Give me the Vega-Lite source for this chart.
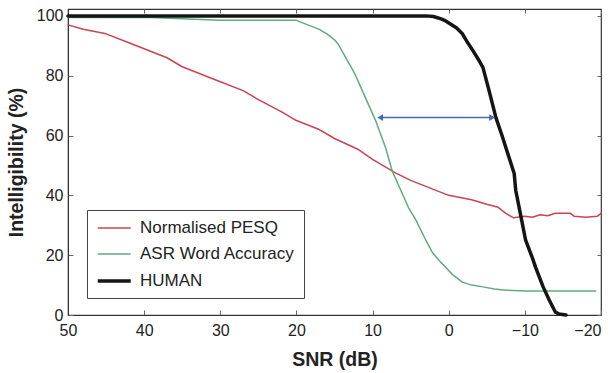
{
  "$schema": "https://vega.github.io/schema/vega-lite/v6.json",
  "width": 533,
  "height": 306,
  "autosize": {"type": "none"},
  "padding": {"left": 68, "top": 9, "right": 9, "bottom": 58},
  "background": "white",
  "config": {
    "font": "Liberation Sans",
    "view": {"stroke": "#333", "strokeWidth": 1.2},
    "axis": {"grid": false, "domainColor": "#333", "tickColor": "#666", "labelColor": "#222", "titleColor": "#222"}
  },
  "datasets": {
    "curves": [
      {"snr": 50, "value": 97, "series": "Normalised PESQ"},
      {"snr": 48, "value": 95.5, "series": "Normalised PESQ"},
      {"snr": 45, "value": 94, "series": "Normalised PESQ"},
      {"snr": 42, "value": 91, "series": "Normalised PESQ"},
      {"snr": 40, "value": 89, "series": "Normalised PESQ"},
      {"snr": 37, "value": 86, "series": "Normalised PESQ"},
      {"snr": 35, "value": 83, "series": "Normalised PESQ"},
      {"snr": 32, "value": 80, "series": "Normalised PESQ"},
      {"snr": 30, "value": 78, "series": "Normalised PESQ"},
      {"snr": 27, "value": 75, "series": "Normalised PESQ"},
      {"snr": 25, "value": 72, "series": "Normalised PESQ"},
      {"snr": 22, "value": 68, "series": "Normalised PESQ"},
      {"snr": 20, "value": 65, "series": "Normalised PESQ"},
      {"snr": 17, "value": 62, "series": "Normalised PESQ"},
      {"snr": 15, "value": 59, "series": "Normalised PESQ"},
      {"snr": 12, "value": 55.5, "series": "Normalised PESQ"},
      {"snr": 10, "value": 52, "series": "Normalised PESQ"},
      {"snr": 7, "value": 47.5, "series": "Normalised PESQ"},
      {"snr": 5, "value": 45, "series": "Normalised PESQ"},
      {"snr": 2, "value": 42, "series": "Normalised PESQ"},
      {"snr": 0, "value": 40, "series": "Normalised PESQ"},
      {"snr": -3, "value": 38.5, "series": "Normalised PESQ"},
      {"snr": -5, "value": 37, "series": "Normalised PESQ"},
      {"snr": -6.5, "value": 36, "series": "Normalised PESQ"},
      {"snr": -7.5, "value": 34, "series": "Normalised PESQ"},
      {"snr": -8.5, "value": 32.5, "series": "Normalised PESQ"},
      {"snr": -10, "value": 33, "series": "Normalised PESQ"},
      {"snr": -11, "value": 32.7, "series": "Normalised PESQ"},
      {"snr": -12, "value": 33.5, "series": "Normalised PESQ"},
      {"snr": -13, "value": 33.2, "series": "Normalised PESQ"},
      {"snr": -14, "value": 34, "series": "Normalised PESQ"},
      {"snr": -16, "value": 34, "series": "Normalised PESQ"},
      {"snr": -16.5, "value": 33, "series": "Normalised PESQ"},
      {"snr": -18, "value": 32.7, "series": "Normalised PESQ"},
      {"snr": -19.5, "value": 33, "series": "Normalised PESQ"},
      {"snr": -20, "value": 34, "series": "Normalised PESQ"},
      {"snr": 50, "value": 99.5, "series": "ASR Word Accuracy"},
      {"snr": 40, "value": 99.5, "series": "ASR Word Accuracy"},
      {"snr": 35, "value": 99, "series": "ASR Word Accuracy"},
      {"snr": 30, "value": 98.5, "series": "ASR Word Accuracy"},
      {"snr": 25, "value": 98.5, "series": "ASR Word Accuracy"},
      {"snr": 20, "value": 98.5, "series": "ASR Word Accuracy"},
      {"snr": 19, "value": 97.5, "series": "ASR Word Accuracy"},
      {"snr": 18, "value": 96.5, "series": "ASR Word Accuracy"},
      {"snr": 17, "value": 95.5, "series": "ASR Word Accuracy"},
      {"snr": 16, "value": 94, "series": "ASR Word Accuracy"},
      {"snr": 15, "value": 92, "series": "ASR Word Accuracy"},
      {"snr": 14.5, "value": 90.5, "series": "ASR Word Accuracy"},
      {"snr": 13.5, "value": 86, "series": "ASR Word Accuracy"},
      {"snr": 12.3, "value": 80.5, "series": "ASR Word Accuracy"},
      {"snr": 11, "value": 73, "series": "ASR Word Accuracy"},
      {"snr": 9.6, "value": 65, "series": "ASR Word Accuracy"},
      {"snr": 8.3, "value": 56, "series": "ASR Word Accuracy"},
      {"snr": 7.4, "value": 48, "series": "ASR Word Accuracy"},
      {"snr": 6.3, "value": 41.7, "series": "ASR Word Accuracy"},
      {"snr": 5.3, "value": 36, "series": "ASR Word Accuracy"},
      {"snr": 4.3, "value": 31.7, "series": "ASR Word Accuracy"},
      {"snr": 3.2, "value": 26, "series": "ASR Word Accuracy"},
      {"snr": 2.1, "value": 20.7, "series": "ASR Word Accuracy"},
      {"snr": 1, "value": 17.5, "series": "ASR Word Accuracy"},
      {"snr": 0.4, "value": 16, "series": "ASR Word Accuracy"},
      {"snr": -0.5, "value": 13.5, "series": "ASR Word Accuracy"},
      {"snr": -1.8, "value": 11, "series": "ASR Word Accuracy"},
      {"snr": -3, "value": 10, "series": "ASR Word Accuracy"},
      {"snr": -4.5, "value": 9.4, "series": "ASR Word Accuracy"},
      {"snr": -6, "value": 8.7, "series": "ASR Word Accuracy"},
      {"snr": -7.5, "value": 8.3, "series": "ASR Word Accuracy"},
      {"snr": -10, "value": 8, "series": "ASR Word Accuracy"},
      {"snr": -15, "value": 8, "series": "ASR Word Accuracy"},
      {"snr": -19.3, "value": 8, "series": "ASR Word Accuracy"},
      {"snr": 50, "value": 100, "series": "HUMAN"},
      {"snr": 3, "value": 100, "series": "HUMAN"},
      {"snr": 2, "value": 99.8, "series": "HUMAN"},
      {"snr": 1, "value": 99, "series": "HUMAN"},
      {"snr": 0.4, "value": 98.3, "series": "HUMAN"},
      {"snr": -1, "value": 96, "series": "HUMAN"},
      {"snr": -1.8, "value": 94, "series": "HUMAN"},
      {"snr": -2.5, "value": 91, "series": "HUMAN"},
      {"snr": -3.2, "value": 88.3, "series": "HUMAN"},
      {"snr": -4, "value": 85, "series": "HUMAN"},
      {"snr": -4.5, "value": 82.7, "series": "HUMAN"},
      {"snr": -5.3, "value": 75, "series": "HUMAN"},
      {"snr": -6.2, "value": 66, "series": "HUMAN"},
      {"snr": -7, "value": 60, "series": "HUMAN"},
      {"snr": -7.5, "value": 56, "series": "HUMAN"},
      {"snr": -8.6, "value": 47.3, "series": "HUMAN"},
      {"snr": -8.8, "value": 41.7, "series": "HUMAN"},
      {"snr": -9.5, "value": 32.7, "series": "HUMAN"},
      {"snr": -10.1, "value": 25, "series": "HUMAN"},
      {"snr": -11, "value": 19, "series": "HUMAN"},
      {"snr": -11.4, "value": 16, "series": "HUMAN"},
      {"snr": -12.4, "value": 9.4, "series": "HUMAN"},
      {"snr": -13.2, "value": 5, "series": "HUMAN"},
      {"snr": -14, "value": 1, "series": "HUMAN"},
      {"snr": -14.5, "value": 0.3, "series": "HUMAN"},
      {"snr": -15.4, "value": 0, "series": "HUMAN"}
    ],
    "arrow": [
      {"from": 9.0, "to": -5.7, "level": 66}
    ]
  },
  "layer": [
    {
      "data": {"name": "curves"},
      "mark": {"type": "line", "strokeCap": "round", "strokeJoin": "round"},
      "encoding": {
        "x": {
          "field": "snr", "type": "quantitative",
          "scale": {"domain": [-20, 50], "reverse": true, "nice": false, "zero": false},
          "axis": {
            "values": [50, 40, 30, 20, 10, 0, -10, -20],
            "title": "SNR (dB)", "titleFontSize": 19.5, "titleFontWeight": "bold", "titlePadding": 12,
            "labelFontSize": 16, "labelPadding": 12, "tickSize": -5, "labelFlush": false,
            "labelAlign": {"condition": {"test": "datum.value == -20", "value": "right"}, "value": "center"}
          }
        },
        "y": {
          "field": "value", "type": "quantitative",
          "scale": {"domain": [0, 102.3], "nice": false},
          "axis": {
            "values": [0, 20, 40, 60, 80, 100],
            "title": "Intelligibility (%)", "titleFontSize": 19.5, "titleFontWeight": "bold", "titlePadding": 10,
            "labelFontSize": 16, "labelPadding": 10, "tickSize": -5
          }
        },
        "color": {
          "field": "series", "type": "nominal",
          "scale": {"domain": ["Normalised PESQ", "ASR Word Accuracy", "HUMAN"], "range": ["#c94451", "#62ab7c", "#151515"]},
          "legend": {
            "title": null, "orient": "none", "legendX": 19, "legendY": 201,
            "symbolType": "M -1 0 L 3 0", "symbolSize": 272, "labelFontSize": 17, "labelColor": "#222",
            "strokeColor": "#444", "fillColor": "white", "padding": 9, "rowPadding": 9, "labelOffset": 24, "cornerRadius": 0
          }
        },
        "strokeWidth": {
          "field": "series", "type": "nominal",
          "scale": {"type": "ordinal", "domain": ["Normalised PESQ", "ASR Word Accuracy", "HUMAN"], "range": [1.5, 1.5, 3.5]}
        },
        "order": {"field": "snr", "type": "quantitative", "sort": "descending"}
      }
    },
    {
      "data": {"name": "arrow"},
      "mark": {"type": "rule", "color": "#4a68b8", "strokeWidth": 1.5},
      "encoding": {
        "x": {"field": "from", "type": "quantitative", "axis": {"orient": "top", "values": [50, 40, 30, 20, 10, 0, -10, -20], "labels": false, "title": null, "domain": false, "tickSize": -4}},
        "x2": {"field": "to"},
        "y": {"field": "level", "type": "quantitative", "axis": {"orient": "right", "values": [0, 20, 40, 60, 80, 100], "labels": false, "title": null, "domain": false, "tickSize": -4}}
      }
    },
    {
      "data": {"name": "arrow"},
      "mark": {"type": "point", "shape": "triangle-left", "filled": true, "color": "#4a68b8", "size": 45, "opacity": 1},
      "encoding": {
        "x": {"field": "from", "type": "quantitative", "axis": null},
        "y": {"field": "level", "type": "quantitative", "axis": null}
      }
    },
    {
      "data": {"name": "arrow"},
      "mark": {"type": "point", "shape": "triangle-right", "filled": true, "color": "#4a68b8", "size": 45, "opacity": 1},
      "encoding": {
        "x": {"field": "to", "type": "quantitative", "axis": null},
        "y": {"field": "level", "type": "quantitative", "axis": null}
      }
    }
  ],
  "resolve": {"axis": {"x": "independent", "y": "independent"}}
}
